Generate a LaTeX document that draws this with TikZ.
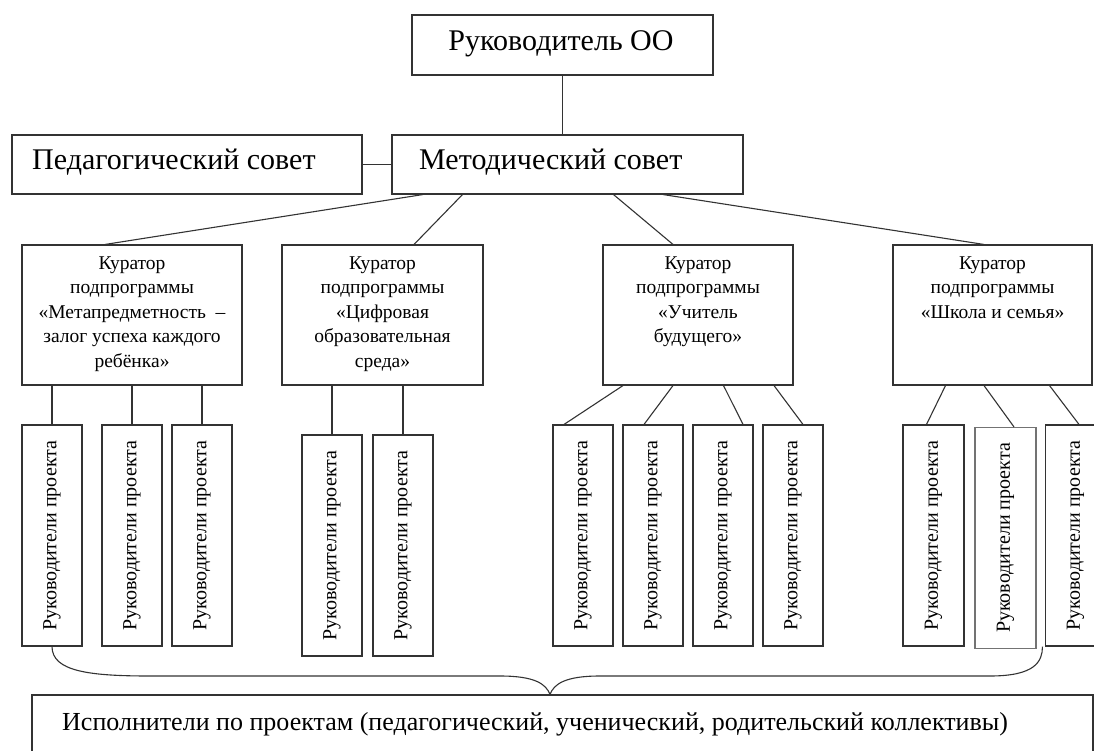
\documentclass[tikz,border=0pt]{standalone}
\usepackage{fontspec}
\setmainfont{Liberation Serif}
\begin{document}
\begin{tikzpicture}[x=1pt,y=-1pt,
  box/.style={draw=black!80, line width=1.1pt, inner sep=0pt},
  link/.style={draw=black!80, line width=1.1pt},
  bigtext/.style={font=\fontsize{30}{36}\selectfont, inner sep=0pt},
  curtext/.style={font=\fontsize{19.5}{24.5}\selectfont, align=center, inner sep=0pt, anchor=north},
  leadbox/.style={box, minimum width=60pt, minimum height=221pt,
    label={[rotate=90, font=\fontsize{20}{22}\selectfont, inner sep=0pt]center:Руководители проекта}},
  curbox/.style={box, minimum height=140pt}
]
\useasboundingbox (0,0) rectangle (1094,751);
\clip (0,0) rectangle (1094,751);

% top level
\node[box, minimum width=301pt, minimum height=60pt] (top) at (562.5,45) {};
\node[bigtext, anchor=base] (toptext) at (561,51) {Руководитель ОО};
\node[box, minimum width=350pt, minimum height=59pt] (ped) at (187,164.5) {};
\node[bigtext, anchor=base west] (pedtext) at (32,170) {Педагогический совет};
\node[box, minimum width=351pt, minimum height=59pt] (met) at (567.5,164.5) {};
\node[bigtext, anchor=base west] (mettext) at (419,170) {Методический совет};

\draw[link] (top.south) -- (top.south |- met.north);
\draw[link] (ped.east) -- (met.west);

% curators
\node[curbox, minimum width=220pt] (c1) at (132,315) {};
\node[curtext] (t1) at ([yshift=-12pt]c1.north) {Куратор\\подпрограммы\\«Метапредметность~~–\\залог успеха каждого\\ребёнка»};
\node[curbox, minimum width=201pt] (c2) at (382.5,315) {};
\node[curtext] (t2) at ([yshift=-12pt]c2.north) {Куратор\\подпрограммы\\«Цифровая\\образовательная\\среда»};
\node[curbox, minimum width=190pt] (c3) at (698,315) {};
\node[curtext] (t3) at ([yshift=-12pt]c3.north) {Куратор\\подпрограммы\\«Учитель\\будущего»};
\node[curbox, minimum width=199pt] (c4) at (992.5,315) {};
\node[curtext] (t4) at ([yshift=-12pt]c4.north) {Куратор\\подпрограммы\\«Школа и семья»};

\draw[link] ([xshift=-144.5pt]met.south) -- ([xshift=-27pt]c1.north);
\draw[link] ([xshift=-105pt]met.south) -- ([xshift=31.5pt]c2.north);
\draw[link] ([xshift=46pt]met.south) -- ([xshift=-25pt]c3.north);
\draw[link] ([xshift=95.5pt]met.south) -- ([xshift=-8.5pt]c4.north);

% project leaders
\node[leadbox] (l1) at (52,535.5) {};
\node[leadbox] (l2) at (132,535.5) {};
\node[leadbox] (l3) at (202,535.5) {};
\node[leadbox] (l4) at (332,545.5) {};
\node[leadbox] (l5) at (403,545.5) {};
\node[leadbox] (l6) at (583,535.5) {};
\node[leadbox] (l7) at (653,535.5) {};
\node[leadbox] (l8) at (723,535.5) {};
\node[leadbox] (l9) at (793,535.5) {};
\node[leadbox, minimum width=61pt] (l10) at (933.5,535.5) {};
\node[leadbox, minimum width=61pt, draw=black!55] (l11) at (1005.5,538) {};
\node[leadbox] (l12) at (1075.5,535.5) {};

\foreach \l in {l1,l2,l3}{\draw[link] (\l.north |- c1.south) -- (\l.north);}
\foreach \l in {l4,l5}{\draw[link] (\l.north |- c2.south) -- (\l.north);}
\draw[link] ([xshift=-75pt]c3.south) -- ([xshift=-19pt]l6.north);
\draw[link] ([xshift=-25pt]c3.south) -- ([xshift=-9pt]l7.north);
\draw[link] ([xshift=25.5pt]c3.south) -- ([xshift=20pt]l8.north);
\draw[link] ([xshift=76pt]c3.south) -- ([xshift=10pt]l9.north);
\draw[link] ([xshift=-47pt]c4.south) -- ([xshift=-7pt]l10.north);
\draw[link] ([xshift=-8.5pt]c4.south) -- ([xshift=8.5pt]l11.north);
\draw[link] ([xshift=57pt]c4.south) -- ([xshift=3.5pt]l12.north);

% executors
\node[box, minimum width=1061pt, minimum height=80pt] (bot) at (562.5,735) {};
\node[font=\fontsize{26}{31}\selectfont, inner sep=0pt, anchor=base west] (bottext) at (62,730)
  {Исполнители по проектам (педагогический, ученический, родительский коллективы)};

% brace
\coordinate (tip) at ([xshift=-12.5pt]bot.north);
\draw[link] (l1.south) .. controls ([yshift=-25pt]l1.south) and (90,676) .. (150,676)
  -- (500,676) .. controls (535,676) and (546,684) .. (tip)
  .. controls (554,684) and (565,676) .. (600,676)
  -- (990,676) .. controls (1035,676) and ([xshift=-2.5pt, yshift=-15pt]l12.south west) .. ([xshift=-2.5pt]l12.south west);
\end{tikzpicture}
\end{document}
